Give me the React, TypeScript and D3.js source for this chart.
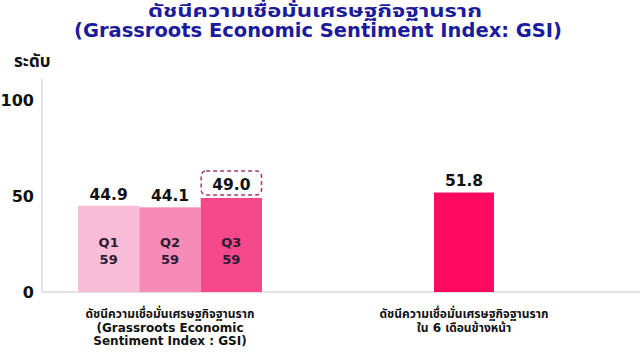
import React from "react";
import * as d3 from "d3";

const quarters = ["Q1", "Q2", "Q3"];
const quarterYears = ["59", "59", "59"];
const gsiValues = [44.9, 44.1, 49.0];
const quarterColors = ["#F9BCD7", "#F78BB7", "#F5488A"];
const outlookValue = 51.8;
const outlookColor = "#FF0A5E";
const yTicks = [0, 50, 100];
const groupLabels = [
  ["ดัชนีความเชื่อมั่นเศรษฐกิจฐานราก", "(Grassroots Economic", "Sentiment Index : GSI)"],
  ["ดัชนีความเชื่อมั่นเศรษฐกิจฐานราก", "ใน 6 เดือนข้างหน้า"],
];
const titleLines = ["ดัชนีความเชื่อมั่นเศรษฐกิจฐานราก", "(Grassroots Economic Sentiment Index: GSI)"];
const yAxisTitle = "ระดับ";

const W = 640;
const H = 360;
const FONT = "Tahoma, 'DejaVu Sans', 'Noto Sans Thai', sans-serif";
const NUMFONT = "'DejaVu Sans', sans-serif";

export default function App() {
  const axisX = 42;
  const y = d3.scaleLinear().domain([0, 100]).range([292, 100]);
  const yTop = y(111);
  // left group of three quarter bars
  const xq = d3.scaleBand().domain(quarters).range([78, 262]).paddingInner(0);
  // right forecast bar
  const xo = d3.scaleBand().domain(["outlook"]).range([434, 494]);
  const groupCenters = [(78 + 262) / 2, xo("outlook")! + xo.bandwidth() / 2];
  const q3 = quarters[2];

  return (
    <svg width={W} height={H} style={{ position: "absolute", left: 0, top: 0, background: "#fff" }} fontFamily={FONT}>
      <rect x={0} y={0} width={W} height={H} fill="#fff" />
      {/* Title */}
      <text x={315} y={17} textAnchor="middle" fontSize={18} fontWeight="bold" fill="#1B1B9C"
        textLength={334} lengthAdjust="spacingAndGlyphs">
        {titleLines[0]}
      </text>
      <text x={318} y={37} textAnchor="middle" fontSize={19} fontWeight="bold" fill="#1B1B9C"
        textLength={488} lengthAdjust="spacingAndGlyphs">
        {titleLines[1]}
      </text>
      {/* Y axis title */}
      <text x={14} y={67} fontSize={17} fontWeight="bold" fill="#111">{yAxisTitle}</text>
      {/* Axes */}
      <line x1={axisX} x2={axisX} y1={yTop} y2={y(0)} stroke="#D9D9D9" strokeWidth={1.5} />
      <line x1={axisX} x2={W} y1={y(0)} y2={y(0)} stroke="#D9D9D9" strokeWidth={1.5} />
      {yTicks.map((t) => (
        <text key={t} x={34} y={y(t)} dy="0.36em" textAnchor="end" fontSize={16} fontWeight="bold" fill="#111"
          fontFamily={NUMFONT}>
          {t}
        </text>
      ))}
      {/* Quarter bars */}
      {quarters.map((q, i) => {
        const x0 = xq(q)!;
        const bw = xq.bandwidth();
        const cx = x0 + bw / 2;
        const top = y(gsiValues[i]);
        return (
          <g key={q}>
            <rect x={x0} y={top} width={bw} height={y(0) - top} fill={quarterColors[i]} />
            <text x={cx} y={top - (i === 2 ? 8 : 6)} textAnchor="middle" fontSize={15.5} fontWeight="bold" fill="#111"
              fontFamily={NUMFONT}>
              {gsiValues[i].toFixed(1)}
            </text>
            <text x={cx} y={247} textAnchor="middle" fontSize={13} fontWeight="bold" fill="#2B1B33"
              fontFamily={NUMFONT}>
              {q}
            </text>
            <text x={cx} y={264} textAnchor="middle" fontSize={13} fontWeight="bold" fill="#2B1B33"
              fontFamily={NUMFONT}>
              {quarterYears[i]}
            </text>
          </g>
        );
      })}
      {/* Highlight box around latest quarter label */}
      <rect x={xq(q3)! + 0.5} y={y(gsiValues[2]) - 27} width={xq.bandwidth() - 1} height={24} rx={5}
        fill="none" stroke="#9E3A6C" strokeWidth={1.5} strokeDasharray="4 3" />
      {/* Outlook bar */}
      <rect x={xo("outlook")!} y={y(outlookValue)} width={xo.bandwidth()} height={y(0) - y(outlookValue)} fill={outlookColor} />
      <text x={groupCenters[1]} y={y(outlookValue) - 7} textAnchor="middle" fontSize={15.5}
        fontWeight="bold" fill="#111" fontFamily={NUMFONT}>
        {outlookValue.toFixed(1)}
      </text>
      {/* Category labels */}
      {groupLabels.map((lines, gi) =>
        lines.map((ln, li) => (
          <text key={`${gi}-${li}`} x={groupCenters[gi]} y={318 + li * 13.5} textAnchor="middle" fontSize={12}
            fontWeight="bold" fill="#111">
            {ln}
          </text>
        ))
      )}
    </svg>
  );
}
